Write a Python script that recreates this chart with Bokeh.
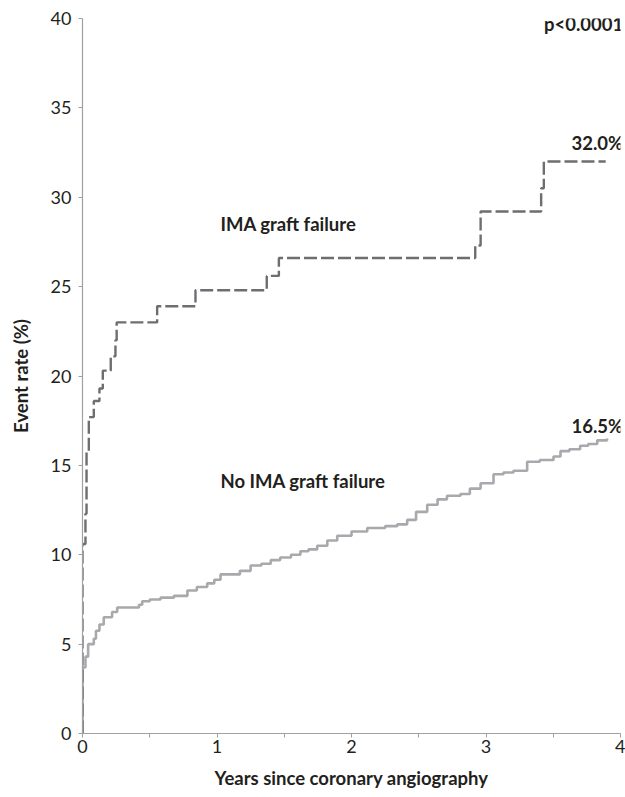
from bokeh.plotting import figure
from bokeh.models import Range1d, FixedTicker, Label
from bokeh.embed import file_html
from bokeh.resources import INLINE

# IMA graft failure (dashed step curve)
ima_years = [0.0, 0.0, 0.022, 0.030, 0.047, 0.084, 0.126, 0.151, 0.21, 0.245, 0.254,
             0.555, 0.84, 1.37, 1.46, 2.92, 2.96, 3.41, 3.43, 3.89]
ima_rate = [0.0, 10.6, 12.3, 15.8, 17.7, 18.6, 19.3, 20.3, 21.1, 22.0, 23.0,
            23.9, 24.8, 25.6, 26.6, 27.3, 29.2, 30.5, 32.0, 32.0]

# No IMA graft failure (solid step curve)
no_ima_years = [0.0, 0.0, 0.022, 0.042, 0.084, 0.10, 0.126, 0.158, 0.22, 0.258,
                0.42, 0.444, 0.50, 0.58, 0.68, 0.78, 0.85, 0.927, 0.98, 1.026,
                1.17, 1.25, 1.33, 1.40, 1.47, 1.55, 1.62, 1.68, 1.745, 1.82,
                1.894, 2.00, 2.117, 2.25, 2.34, 2.414, 2.48, 2.563, 2.64, 2.71,
                2.81, 2.88, 2.96, 3.056, 3.13, 3.204, 3.306, 3.40, 3.502, 3.554,
                3.62, 3.70, 3.76, 3.827, 3.90]
no_ima_rate = [0.0, 3.7, 4.3, 5.0, 5.3, 5.75, 6.1, 6.5, 6.8, 7.05,
               7.2, 7.4, 7.5, 7.6, 7.7, 8.0, 8.2, 8.4, 8.6, 8.9,
               9.1, 9.4, 9.5, 9.7, 9.85, 10.0, 10.2, 10.3, 10.5, 10.8,
               11.06, 11.3, 11.5, 11.6, 11.7, 11.95, 12.4, 12.8, 13.1, 13.3,
               13.4, 13.7, 14.0, 14.5, 14.6, 14.7, 15.2, 15.3, 15.5, 15.8,
               15.9, 16.1, 16.2, 16.4, 16.5]

y_ticks = [0, 5, 10, 15, 20, 25, 30, 35, 40]
x_ticks = [0, 1, 2, 3, 4]
x_minor_ticks = [0.5, 1.5, 2.5, 3.5]

FONT = "Lato"
TEXT = "#231f20"
AXIS = "#a0a0a0"

p = figure(width=625, height=797, output_backend="svg", toolbar_location=None,
           x_range=Range1d(0, 4), y_range=Range1d(0, 40),
           min_border_left=82, min_border_right=5, min_border_top=18,
           min_border_bottom=64)
p.outline_line_color = None
p.xgrid.visible = False
p.ygrid.visible = False
p.background_fill_color = "white"
p.border_fill_color = "white"

p.step(no_ima_years, no_ima_rate, mode="after", line_color="#a7a9ac", line_width=2.6)
p.step(ima_years, ima_rate, mode="after", line_color="#6d6e71", line_width=2.4,
       line_dash="13 4")

for ax in (p.xaxis[0], p.yaxis[0]):
    ax.axis_line_color = AXIS
    ax.axis_line_width = 1.2
    ax.major_tick_line_color = AXIS
    ax.minor_tick_line_color = AXIS
    ax.major_tick_in = 0
    ax.major_tick_out = 4
    ax.minor_tick_in = 0
    ax.minor_tick_out = 4
    ax.major_label_text_font = FONT
    ax.major_label_text_font_size = "18px"
    ax.major_label_text_color = TEXT
    ax.axis_label_text_font = FONT
    ax.axis_label_text_font_size = "18.5px"
    ax.axis_label_text_font_style = "bold"
    ax.axis_label_text_color = TEXT

p.xaxis.ticker = FixedTicker(ticks=x_ticks, minor_ticks=x_minor_ticks)
p.yaxis.ticker = FixedTicker(ticks=y_ticks, minor_ticks=[])
p.xaxis.axis_label = "Years since coronary angiography"
p.yaxis.axis_label = "Event rate (%)"
p.xaxis.major_label_standoff = 2
p.xaxis.axis_label_standoff = 11
p.yaxis.major_label_standoff = 7
p.yaxis.axis_label_standoff = 16

def lab(x, y, t, align="left"):
    p.add_layout(Label(x=x, y=y, text=t, text_font=FONT, text_font_size="18.5px",
                       text_font_style="bold", text_color=TEXT, text_align=align,
                       text_baseline="middle"))

lab(4.02, 39.7, "p<0.0001", "right")
lab(4.02, 33.05, "32.0%", "right")
lab(4.02, 17.2, "16.5%", "right")
lab(1.026, 28.5, "IMA graft failure")
lab(1.026, 14.1, "No IMA graft failure")

open("out.html", "w").write(file_html(p, INLINE))
